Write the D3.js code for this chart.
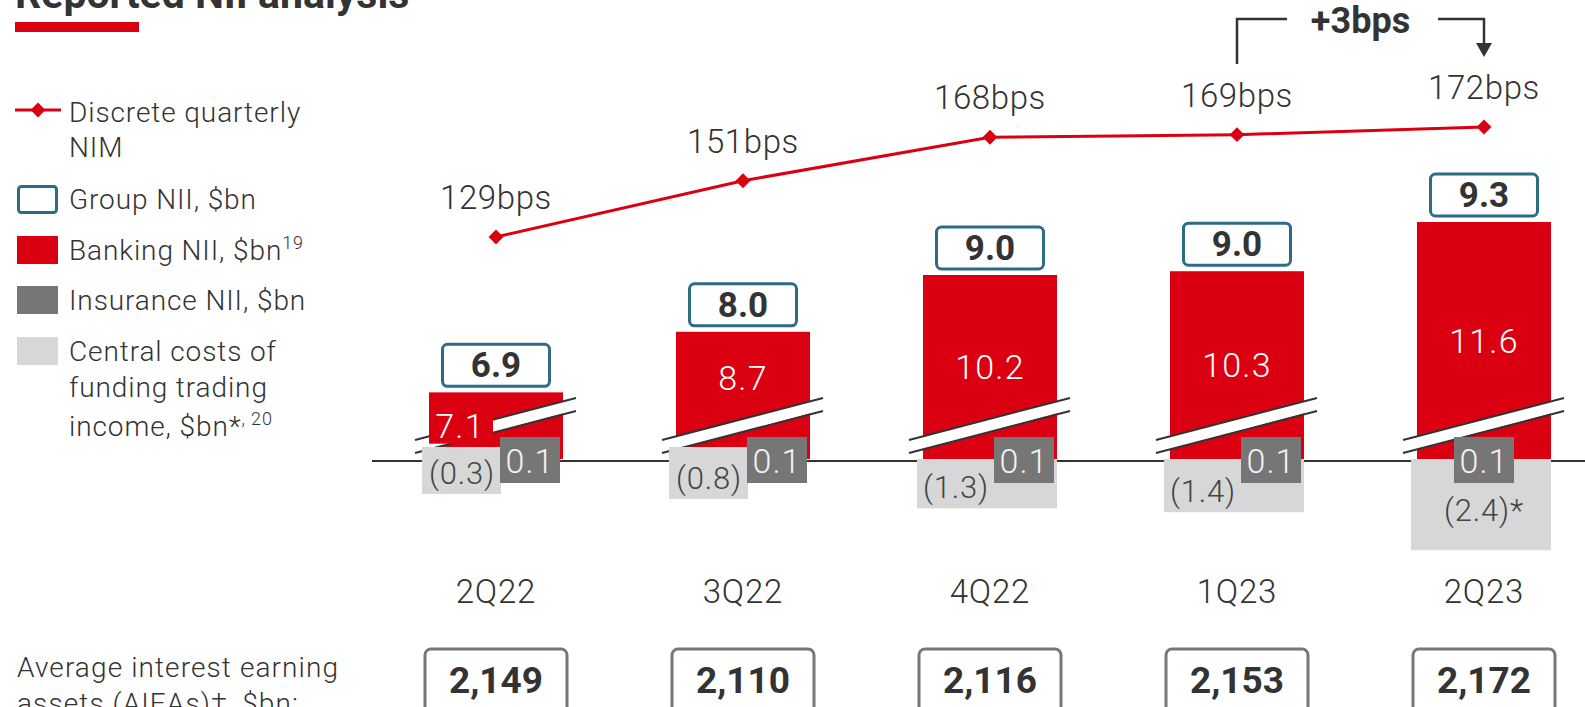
<!DOCTYPE html>
<html lang="en">
<head>
  <meta charset="UTF-8">
  <title>Reported NII analysis</title>
  <script src="https://d3js.org/d3.v7.min.js"></script>
  <style>
    body { margin: 0; background: #fff; }
    svg { display: block; font-family: Roboto, "Noto Sans", Arial, sans-serif; }
    .light { font-weight: 300; }
  </style>
</head>
<body>
<svg width="1585" height="707"></svg>
<script>
  // values
  const quarters = ["2Q22", "3Q22", "4Q22", "1Q23", "2Q23"];
  const nimBps = [129, 151, 168, 169, 172];
  const groupNII = [6.9, 8.0, 9.0, 9.0, 9.3];
  const bankingNII = [7.1, 8.7, 10.2, 10.3, 11.6];
  const insuranceNII = [0.1, 0.1, 0.1, 0.1, 0.1];
  const centralCosts = [-0.3, -0.8, -1.3, -1.4, -2.4];
  const centralNotes = ["", "", "", "", "*"];
  const aieas = [2149, 2110, 2116, 2153, 2172];

  const red = "#db0011", dark = "#333", insGrey = "#767676", costGrey = "#d7d7d7",
        teal = "#2e6b85", boxGrey = "#777";

  const svg = d3.select("svg");
  const base = 461, bw = 134;

  const x = d3.scalePoint().domain(quarters).range([496, 1484]);
  // broken axis: banking bars start above the break
  const yBank = d3.scaleLinear().domain([5.34, 11.6]).range([459, 222]);
  const yCost = d3.scaleLinear().domain([0, -1]).range([459, 497]);
  const yNim = d3.scaleLinear().domain([129, 172]).range([237, 127]);

  // title
  svg.append("text").attr("x", 15).attr("y", 8)
    .attr("font-size", 41).attr("font-weight", 700).attr("fill", dark)
    .text("Reported NII analysis");
  svg.append("rect").attr("x", 15).attr("y", 22).attr("width", 124).attr("height", 10).attr("fill", red);

  // legend
  const lg = svg.append("g").attr("font-size", 28).attr("letter-spacing", 0.9)
    .attr("fill", dark).attr("class", "light");
  lg.append("line").attr("x1", 15).attr("x2", 61).attr("y1", 110).attr("y2", 110)
    .attr("stroke", red).attr("stroke-width", 3);
  lg.append("path").attr("d", d3.symbol(d3.symbolSquare, 110)())
    .attr("transform", "translate(38,110) rotate(45)").attr("fill", red);
  lg.append("text").attr("x", 69).attr("y", 122).text("Discrete quarterly");
  lg.append("text").attr("x", 69).attr("y", 157).text("NIM");
  lg.append("rect").attr("x", 18.5).attr("y", 186.5).attr("width", 38).attr("height", 26).attr("rx", 3)
    .attr("fill", "#fff").attr("stroke", teal).attr("stroke-width", 3);
  lg.append("text").attr("x", 69).attr("y", 209).text("Group NII, $bn");
  lg.append("rect").attr("x", 17).attr("y", 236).attr("width", 41).attr("height", 28).attr("fill", red);
  const bt = lg.append("text").attr("x", 69).attr("y", 260).text("Banking NII, $bn");
  bt.append("tspan").attr("font-size", 18).attr("dy", -11).text("19");
  lg.append("rect").attr("x", 17).attr("y", 286).attr("width", 41).attr("height", 28).attr("fill", insGrey);
  lg.append("text").attr("x", 69).attr("y", 310).text("Insurance NII, $bn");
  lg.append("rect").attr("x", 17).attr("y", 337).attr("width", 41).attr("height", 28).attr("fill", costGrey);
  lg.append("text").attr("x", 69).attr("y", 361).text("Central costs of");
  lg.append("text").attr("x", 69).attr("y", 397).text("funding trading");
  const ct = lg.append("text").attr("x", 69).attr("y", 436).text("income, $bn*");
  ct.append("tspan").attr("font-size", 18).attr("dy", -11).text(", 20");

  // banking bars
  svg.selectAll(".bank").data(quarters).join("rect")
    .attr("x", q => x(q) - bw / 2)
    .attr("y", (q, i) => yBank(bankingNII[i]))
    .attr("width", bw)
    .attr("height", (q, i) => yBank.range()[0] - yBank(bankingNII[i]))
    .attr("fill", red);

  // axis break bands
  const breaks = svg.selectAll(".brk").data(quarters).join("g");
  breaks.append("path")
    .attr("d", q => {
      const l = x(q) - bw / 2 - 14, r = x(q) + bw / 2 + 13;
      return `M${l},${base - 21}L${r},${base - 63}L${r},${base - 51}L${l},${base - 8}Z`;
    })
    .attr("fill", "#fff");
  [21, 8].forEach(off => {
    breaks.append("line")
      .attr("x1", q => x(q) - bw / 2 - 14).attr("y1", base - off)
      .attr("x2", q => x(q) + bw / 2 + 13).attr("y2", base - off - 42)
      .attr("stroke", dark).attr("stroke-width", 2);
  });

  // zero line
  svg.append("line").attr("x1", 372).attr("x2", 1585).attr("y1", base).attr("y2", base)
    .attr("stroke", dark).attr("stroke-width", 2);

  // central costs
  const isTall = v => Math.abs(v) > 2;
  const costBottom = v => Math.max(yCost(v), base + 30 + Math.abs(v) * 10);
  const costTop = v => Math.abs(v) < 1 ? base - 14 : yCost(0);
  svg.selectAll(".cost").data(quarters).join("rect")
    .attr("x", (q, i) => x(q) - bw / 2 - (Math.abs(centralCosts[i]) < 1 ? 7 : 6))
    .attr("y", (q, i) => costTop(centralCosts[i]))
    .attr("width", (q, i) => Math.abs(centralCosts[i]) < 1 ? 79 : bw + 6)
    .attr("height", (q, i) => costBottom(centralCosts[i]) - costTop(centralCosts[i]))
    .attr("fill", costGrey);

  // insurance boxes
  const insX = (q, i) => isTall(centralCosts[i]) ? x(q) - 30 : x(q) + bw / 2 - 63;
  svg.selectAll(".ins").data(quarters).join("rect")
    .attr("x", insX).attr("y", base - 24).attr("width", 60).attr("height", 46)
    .attr("fill", insGrey);
  svg.selectAll(".insl").data(quarters).join("text")
    .attr("class", "light")
    .attr("x", (q, i) => insX(q, i) + 30).attr("y", base + 12)
    .attr("text-anchor", "middle").attr("font-size", 34).attr("letter-spacing", 1)
    .attr("fill", "#f2f2f2")
    .text((q, i) => d3.format(".1f")(insuranceNII[i]));

  // central cost labels
  svg.selectAll(".costl").data(quarters).join("text")
    .attr("class", "light")
    .attr("x", (q, i) => isTall(centralCosts[i]) ? x(q) : x(q) - bw / 2 + 33)
    .attr("y", (q, i) => isTall(centralCosts[i])
      ? (base + 22 + costBottom(centralCosts[i])) / 2 + 4
      : costBottom(centralCosts[i]) - 10)
    .attr("text-anchor", "middle").attr("font-size", 31).attr("letter-spacing", 0.8)
    .attr("fill", "#444")
    .text((q, i) => `(${d3.format(".1f")(-centralCosts[i])})${centralNotes[i]}`);

  // banking labels
  const short = i => yBank.range()[0] - yBank(bankingNII[i]) < 100;
  const bankLabelY = i => short(i)
    ? (yBank(bankingNII[i]) + yBank.range()[0]) / 2 + 12
    : Math.min((yBank(bankingNII[i]) + yBank.range()[0]) / 2 + 12, base - 71);
  svg.selectAll(".bankbg").data(quarters.filter((q, i) => short(i))).join("rect")
    .attr("x", q => x(q) - bw / 2).attr("y", q => bankLabelY(quarters.indexOf(q)) - 28)
    .attr("width", 64).attr("height", 34).attr("fill", red);
  svg.selectAll(".bankl").data(quarters).join("text")
    .attr("class", "light")
    .attr("x", (q, i) => short(i) ? x(q) - bw / 2 + 31 : x(q))
    .attr("y", (q, i) => bankLabelY(i))
    .attr("text-anchor", "middle").attr("font-size", 34).attr("letter-spacing", 1.2)
    .attr("fill", "#fff")
    .text((q, i) => d3.format(".1f")(bankingNII[i]));

  // group NII boxes
  svg.selectAll(".grp").data(quarters).join("rect")
    .attr("x", q => x(q) - 53.5).attr("y", (q, i) => yBank(bankingNII[i]) - 48)
    .attr("width", 107).attr("height", 42).attr("rx", 5)
    .attr("fill", "#fff").attr("stroke", teal).attr("stroke-width", 3);
  svg.selectAll(".grpl").data(quarters).join("text")
    .attr("x", q => x(q)).attr("y", (q, i) => yBank(bankingNII[i]) - 15)
    .attr("text-anchor", "middle").attr("font-size", 35).attr("font-weight", 700).attr("fill", dark)
    .text((q, i) => d3.format(".1f")(groupNII[i]));

  // NIM line
  svg.append("path").datum(quarters)
    .attr("fill", "none").attr("stroke", red).attr("stroke-width", 3)
    .attr("d", d3.line().x(q => x(q)).y((q, i) => yNim(nimBps[i])));
  svg.selectAll(".dia").data(quarters).join("path")
    .attr("d", d3.symbol(d3.symbolSquare, 110)())
    .attr("transform", (q, i) => `translate(${x(q)},${yNim(nimBps[i])}) rotate(45)`)
    .attr("fill", red);
  svg.selectAll(".niml").data(quarters).join("text")
    .attr("class", "light")
    .attr("x", q => x(q)).attr("y", (q, i) => yNim(nimBps[i]) - 28)
    .attr("text-anchor", "middle").attr("font-size", 33).attr("letter-spacing", 0.6)
    .attr("fill", dark)
    .text((q, i) => `${nimBps[i]}bps`);

  // +3bps bracket
  const xa = x("1Q23"), xb = x("2Q23");
  const ann = svg.append("g").attr("stroke", dark).attr("stroke-width", 2.5).attr("fill", "none");
  ann.append("path").attr("d", `M${xa},64V19H${xa + 50}`);
  ann.append("path").attr("d", `M${xb - 46},19H${xb}V44`);
  svg.append("path").attr("d", `M${xb - 8},43L${xb + 8},43L${xb},57Z`).attr("fill", dark);
  svg.append("text").attr("x", (xa + xb) / 2).attr("y", 33)
    .attr("text-anchor", "middle").attr("font-size", 36).attr("font-weight", 700).attr("fill", dark)
    .text(`+${nimBps[4] - nimBps[3]}bps`);

  // x labels
  svg.selectAll(".xl").data(quarters).join("text")
    .attr("class", "light")
    .attr("x", q => x(q)).attr("y", 603)
    .attr("text-anchor", "middle").attr("font-size", 33).attr("letter-spacing", 0.8)
    .attr("fill", dark)
    .text(q => q);

  // AIEAs row
  svg.append("text").attr("class", "light").attr("x", 17).attr("y", 677)
    .attr("font-size", 28).attr("letter-spacing", 1.1).attr("fill", dark).text("Average interest earning");
  svg.append("text").attr("class", "light").attr("x", 17).attr("y", 713)
    .attr("font-size", 28).attr("letter-spacing", 1.1).attr("fill", dark).text("assets (AIEAs)\u2021, $bn:");
  svg.selectAll(".aiea").data(quarters).join("rect")
    .attr("x", q => x(q) - 71).attr("y", 649).attr("width", 142).attr("height", 80).attr("rx", 6)
    .attr("fill", "#fff").attr("stroke", boxGrey).attr("stroke-width", 3);
  svg.selectAll(".aieal").data(quarters).join("text")
    .attr("x", q => x(q)).attr("y", 693)
    .attr("text-anchor", "middle").attr("font-size", 37).attr("font-weight", 700).attr("fill", dark)
    .text((q, i) => d3.format(",")(aieas[i]));
</script>
</body>
</html>
